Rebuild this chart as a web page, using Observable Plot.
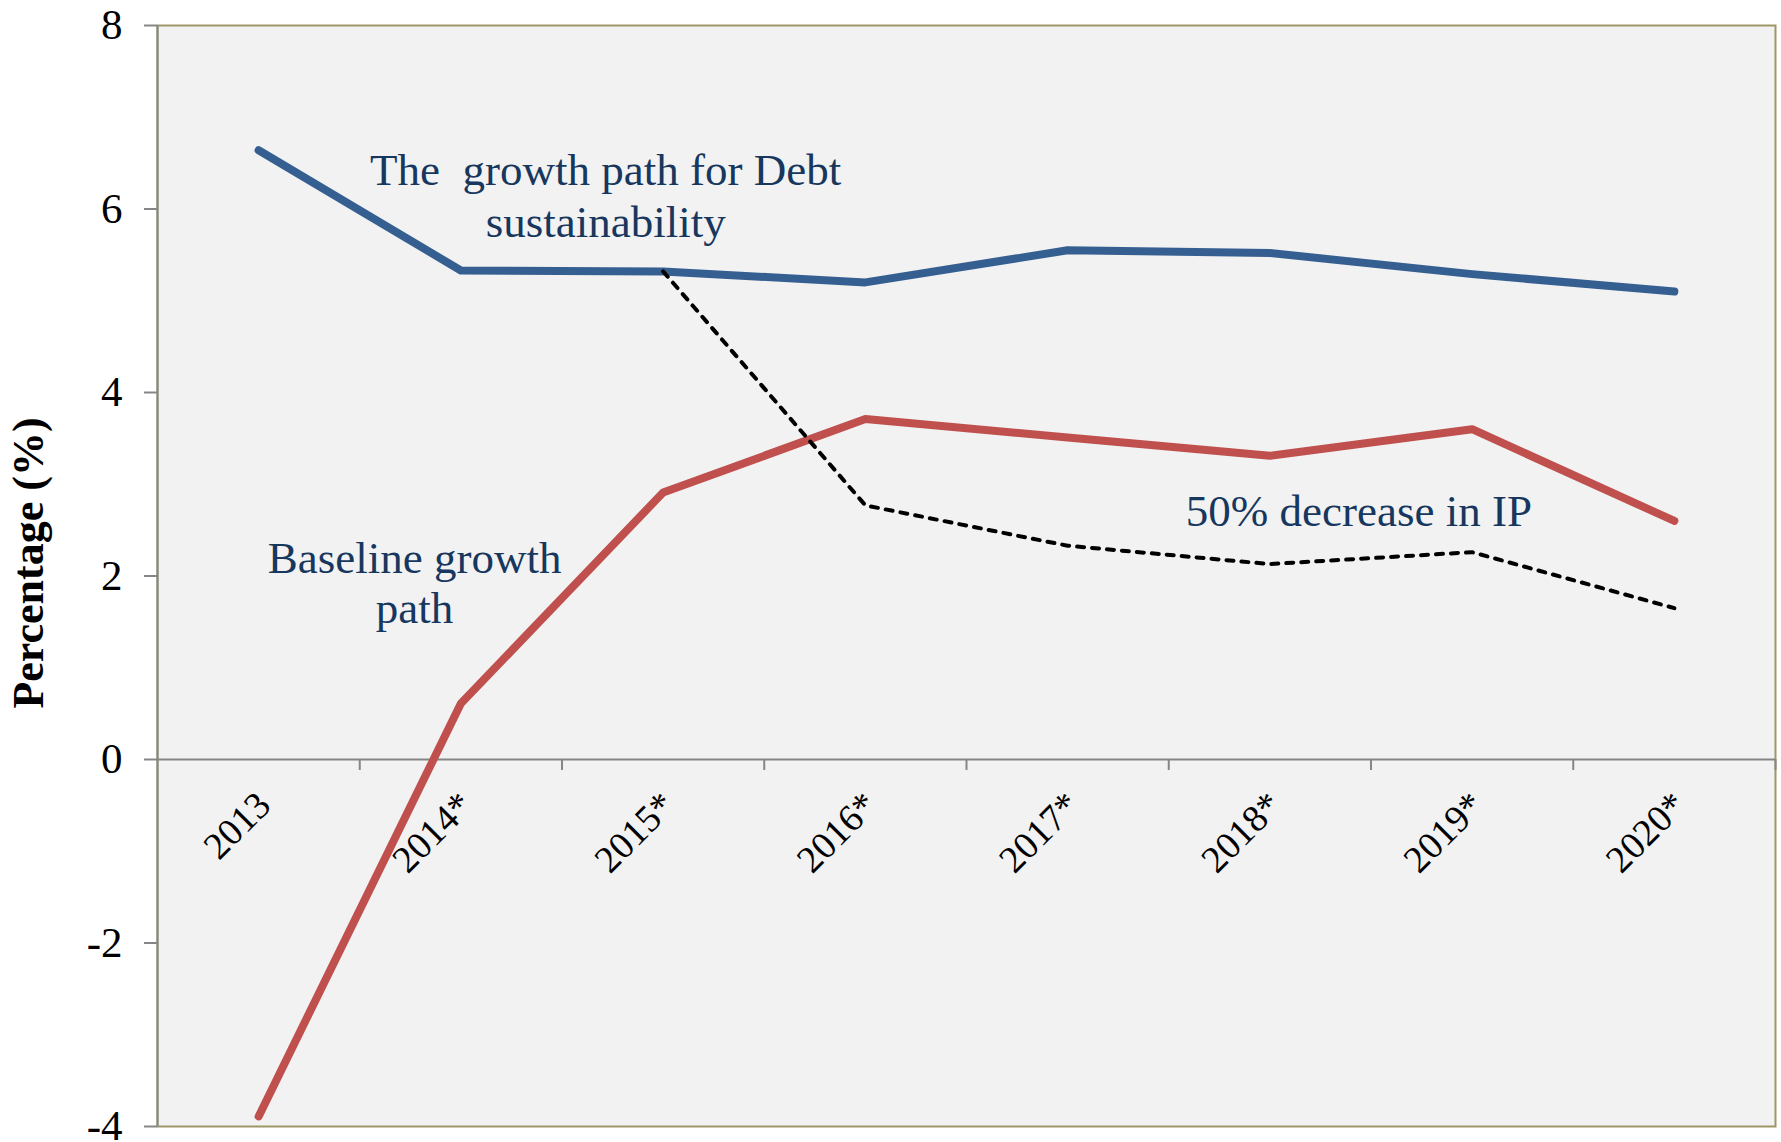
<!DOCTYPE html>
<html><head><meta charset="utf-8">
<script src="https://cdn.jsdelivr.net/npm/d3@7"></script>
<script src="https://cdn.jsdelivr.net/npm/@observablehq/plot@0.6"></script>
<style>
html,body{margin:0;padding:0;background:#fff;overflow:hidden;}
svg text{white-space:pre;}
</style></head><body><div id="chart"></div>
<script>
const years = ["2013","2014*","2015*","2016*","2017*","2018*","2019*","2020*"];
const debtSustainabilityPath = [6.64,5.33,5.32,5.20,5.55,5.52,5.29,5.10];
const baselinePath = [-3.89,0.61,2.91,3.71,3.51,3.31,3.60,2.60];
const ipDecreasePath = [null,null,5.32,2.77,2.33,2.13,2.26,1.65];
const yTicks = [-4,-2,0,2,4,6,8];
const labelDebt = "The  growth path for Debt\nsustainability";
const labelBaseline = "Baseline growth\npath";
const labelIP = "50% decrease in IP";
const yTitle = "Percentage (%)";

const idx = years.map((d,i)=>i);
const boundaries = years.map((d,i)=>i+0.5);
const toRows = arr => arr.map((v,i)=>({i, v})).filter(d=>d.v!=null);

const gray = "#868686";
const khaki = "#9c9766";
const navy = "#17375e";

const chart = Plot.plot({
  width: 1781,
  height: 1142,
  marginLeft: 157,
  marginTop: 25,
  marginRight: 6,
  marginBottom: 16,
  style: {fontFamily: "'Liberation Serif', serif", color: "black", background: "white"},
  x: {type: "linear", domain: [-0.5, 7.5], axis: null},
  y: {domain: [-4, 8], axis: null},
  marks: [
    Plot.frame({fill: "#f2f2f2", stroke: khaki, strokeWidth: 2}),
    Plot.ruleX([-0.5], {stroke: gray, strokeWidth: 2}),
    Plot.ruleY([0], {stroke: gray, strokeWidth: 2}),
    Plot.ruleX(boundaries, {x: d=>d, y1: 0, y2: -0.12, stroke: gray, strokeWidth: 2}),
    Plot.axisY({ticks: yTicks, label: null, tickSize: 13, tickPadding: 22, stroke: gray, strokeWidth: 2, fill: "black", fontSize: 43, tickFormat: d=>String(d)}),
    Plot.text(idx, {x: d=>d, y: 0, text: d=>years[d], rotate: -45, textAnchor: "end", lineAnchor: "bottom", dx: 14, dy: 48, fontSize: 38, fill: "black"}),
    Plot.line(toRows(debtSustainabilityPath), {x: "i", y: "v", stroke: "#365f91", strokeWidth: 8, strokeLinecap: "round", strokeLinejoin: "round"}),
    Plot.line(toRows(baselinePath), {x: "i", y: "v", stroke: "#c0504d", strokeWidth: 8, strokeLinecap: "round", strokeLinejoin: "round"}),
    Plot.line(toRows(ipDecreasePath), {x: "i", y: "v", stroke: "black", strokeWidth: 4, strokeDasharray: "7,8", strokeLinecap: "round", strokeLinejoin: "round"}),
    Plot.text([labelDebt], {x: 1.716, y: 5.70, text: d=>d, textAnchor: "middle", lineAnchor: "bottom", lineHeight: 1.14, fontSize: 45, fill: navy}),
    Plot.text([labelBaseline], {x: 0.771, y: 1.49, text: d=>d, textAnchor: "middle", lineAnchor: "bottom", lineHeight: 1.1, fontSize: 45, fill: navy}),
    Plot.text([labelIP], {x: 5.44, y: 2.55, text: d=>d, textAnchor: "middle", lineAnchor: "bottom", fontSize: 45, fill: navy}),
    Plot.text([yTitle], {frameAnchor: "left", text: d=>d, rotate: -90, dx: -129, dy: -13, textAnchor: "middle", lineAnchor: "middle", fontSize: 44, fontWeight: "bold", fill: "black"})
  ]
});
document.getElementById("chart").appendChild(chart);
</script></body></html>
